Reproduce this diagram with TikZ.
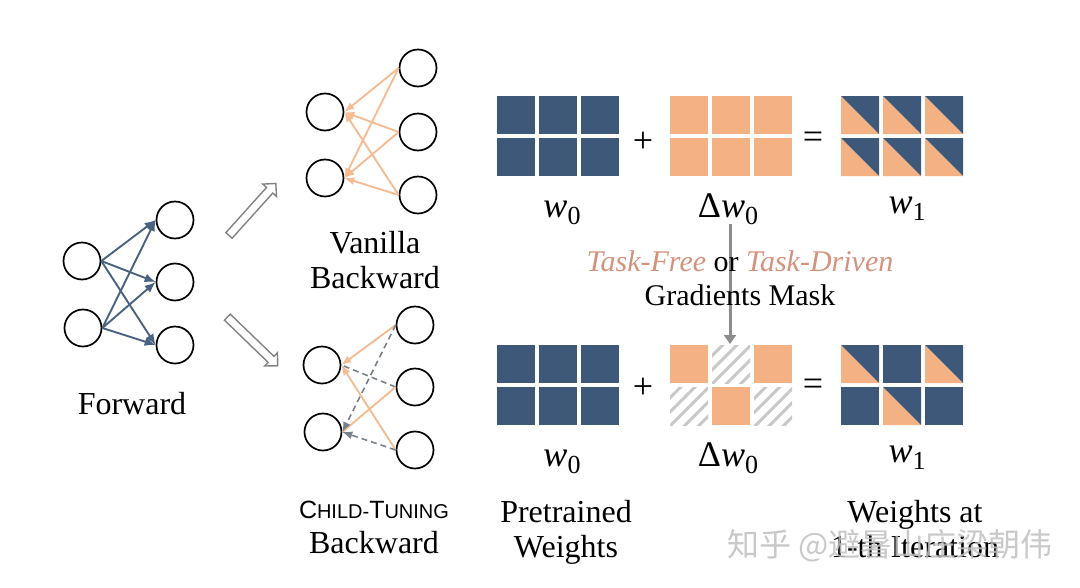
\documentclass[tikz,border=0pt]{standalone}
\usepackage{fontspec}
\setmainfont{Liberation Serif}
\newfontfamily\cjkfont{Noto Sans CJK SC}
\newfontfamily\scsans{Liberation Sans}
\usetikzlibrary{arrows.meta,shapes.arrows,patterns.meta}
\definecolor{wblue}{RGB}{61,88,120}
\definecolor{worange}{RGB}{244,177,131}
\definecolor{fwdblue}{RGB}{72,98,128}
\definecolor{bwdorange}{RGB}{245,188,148}
\definecolor{maskgray}{RGB}{120,128,138}
\definecolor{taskc}{RGB}{212,145,125}
\definecolor{hatchgray}{RGB}{200,200,200}
\definecolor{hollowgray}{RGB}{130,130,130}
\definecolor{arrowgray}{RGB}{140,140,140}
\newcommand{\wlab}[1]{\textit{w}\raisebox{-7pt}{\fontsize{26}{26}\selectfont #1}}
\begin{document}
\begin{tikzpicture}[x=1pt,y=-1pt,
  neuron/.style={circle,draw=black,line width=1.7pt,minimum size=37pt,inner sep=0pt},
  fwd/.style={draw=fwdblue,line width=1.9pt,-{Latex[length=11pt,width=9pt]}},
  bwd/.style={draw=bwdorange,line width=1.9pt,-{Latex[length=10pt,width=8pt]}},
  bwdplain/.style={draw=bwdorange,line width=1.9pt},
  maskd/.style={draw=maskgray,line width=1.6pt,dash pattern=on 6pt off 4pt,-{Latex[length=10pt,width=8pt]}},
  maskdplain/.style={draw=maskgray,line width=1.6pt,dash pattern=on 6pt off 4pt},
  hollow/.style={single arrow,draw=hollowgray,fill=white,line width=1.4pt,minimum height=70pt,
     inner sep=3.5pt,single arrow head extend=5pt,single arrow head indent=0pt},
  lbl/.style={font=\fontsize{32}{35}\selectfont,align=center,anchor=base,inner sep=0pt},
  wl/.style={font=\fontsize{36}{36}\selectfont,anchor=base,inner sep=0pt},
  op/.style={font=\fontsize{36}{36}\selectfont,inner sep=0pt},
  cellb/.style={fill=wblue},
  cello/.style={fill=worange},
  hatch/.style={pattern={Lines[angle=45,distance=10pt,line width=3pt]},pattern color=hatchgray}
]
\path (0,0) rectangle (1080,587);

% ---------- Forward network
\node[neuron] (f1) at (82,261) {};
\node[neuron] (f2) at (83,328) {};
\node[neuron] (g1) at (175,220) {};
\node[neuron] (g2) at (175,282) {};
\node[neuron] (g3) at (175,345) {};
\foreach \a in {f1,f2}{\foreach \b in {g1,g2,g3}{\draw[fwd] (\a.east) -- (\b.west);}}
\node[lbl] (fwdlbl) at (132,414) {Forward};

% ---------- hollow arrows
\node[hollow,rotate=48] (hup) at (251,211) {};
\node[hollow,rotate=-44] (hdown) at (251,340) {};

% ---------- Vanilla backward
\node[neuron] (vl1) at (325,112) {};
\node[neuron] (vl2) at (325,178) {};
\node[neuron] (vr1) at (418,68) {};
\node[neuron] (vr2) at (418,132) {};
\node[neuron] (vr3) at (418,195) {};
\foreach \b in {vr1,vr2,vr3}{\foreach \a in {vl1,vl2}{\draw[bwd] (\b.west) -- (\a.east);}}
\node[lbl] (vanlbl) at (375,288) {Vanilla\\Backward};

% ---------- Child-Tuning backward
\node[neuron] (cl1) at (322,365) {};
\node[neuron] (cl2) at (323,432) {};
\node[neuron] (cr1) at (415,325) {};
\node[neuron] (cr2) at (415,387) {};
\node[neuron] (cr3) at (415,450) {};
\draw[maskdplain] (cr2.west) -- (cl1.east);
\draw[bwd] (cr1.west) -- (cl1.east);
\draw[bwd] (cr3.west) -- (cl1.east);
\draw[bwdplain] (cr2.west) -- (cl2.east);
\draw[maskd] (cr1.west) -- (cl2.east);
\draw[maskd] (cr3.west) -- (cl2.east);
\node[lbl] (ctlbl) at (374,553) {{\scsans\fontsize{25}{33}\selectfont C{\fontsize{20}{33}\selectfont HILD-}T{\fontsize{20}{33}\selectfont UNING}}\\Backward};

% ---------- top matrices
\foreach \i in {0,1,2}{\foreach \j in {0,1}{
  \fill[cellb] (497+42*\i,96+42*\j) rectangle ++(38,38);
  \fill[cello] (670+42*\i,96+42*\j) rectangle ++(38,38);
  \fill[cello] (841+42*\i,96+42*\j) -- ++(0,38) -- ++(38,0) -- cycle;
  \fill[cellb] (841+42*\i,96+42*\j) -- ++(38,0) -- ++(0,38) -- cycle;
}}
\node[op] (plus1) at (643,142) {+};
\node[op] (eq1) at (813,140) {=};
\node[wl] (w0a) at (562,217) {\wlab{0}};
\node[wl] (dwa) at (730,217) {$\!$Δ\wlab{0}};
\node[wl] (w1a) at (907,213) {\wlab{1}};

% ---------- mask arrow and text
\coordinate (masktop) at (730,224);
\coordinate (maskend) at (730,344);
\draw[draw=arrowgray,line width=3pt,-{Triangle[length=9pt,width=12pt]}] (masktop) -- (maskend);
\node[font=\fontsize{30}{38}\selectfont,anchor=base,inner sep=0pt] (tasklbl) at (740,271)
  {\textcolor{taskc}{\textit{Task-Free}} or \textcolor{taskc}{\textit{Task-Driven}}};
\node[font=\fontsize{30}{38}\selectfont,anchor=base,inner sep=0pt] (gmlbl) at (740,305) {Gradients Mask};

% ---------- bottom matrices
\foreach \i in {0,1,2}{\foreach \j in {0,1}{
  \fill[cellb] (497+42*\i,345+42*\j) rectangle ++(38,38);
}}
% delta w0 masked
\fill[cello] (670,345) rectangle ++(38,38);
\fill[hatch] (712,345) rectangle ++(38,38);
\fill[cello] (754,345) rectangle ++(38,38);
\fill[hatch] (670,387) rectangle ++(38,38);
\fill[cello] (712,387) rectangle ++(38,38);
\fill[hatch] (754,387) rectangle ++(38,38);
% w1 bottom
\foreach \i/\j in {0/0,2/0,1/1}{
  \fill[cello] (841+42*\i,345+42*\j) -- ++(0,38) -- ++(38,0) -- cycle;
  \fill[cellb] (841+42*\i,345+42*\j) -- ++(38,0) -- ++(0,38) -- cycle;
}
\foreach \i/\j in {1/0,0/1,2/1}{
  \fill[cellb] (841+42*\i,345+42*\j) rectangle ++(38,38);
}
\node[op] (plus2) at (643,388) {+};
\node[op] (eq2) at (813,387) {=};
\node[wl] (w0b) at (562,466) {\wlab{0}};
\node[wl] (dwb) at (730,466) {$\!$Δ\wlab{0}};
\node[wl] (w1b) at (907,462) {\wlab{1}};

% ---------- bottom labels
\node[lbl] (prelbl) at (566,557) {Pretrained\\Weights};
\node[lbl] (itlbl) at (915,557) {Weights at\\1-th Iteration};

% ---------- watermark
\node[font=\cjkfont\fontsize{32}{32}\selectfont,text=black!25,opacity=0.85,anchor=base,inner sep=0pt]
  (wm) at (890,556) {知乎 @避暑山庄梁朝伟};
\end{tikzpicture}
\end{document}
